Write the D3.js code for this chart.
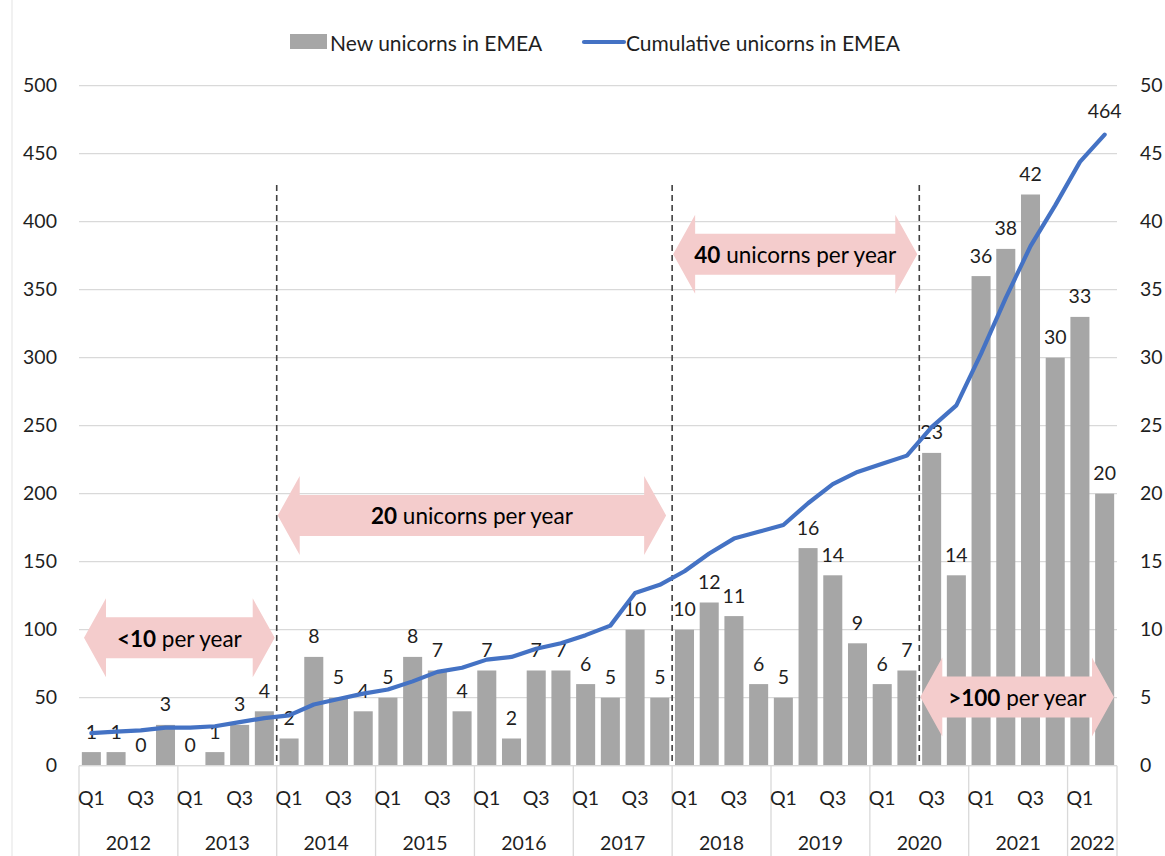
<!DOCTYPE html>
<html>
<head>
<meta charset="utf-8">
<script src="https://cdn.jsdelivr.net/npm/d3@7"></script>
<style>
  body { margin: 0; background: #fff; }
  text { font-family: Lato, "Open Sans", sans-serif; fill: #1f1f1f; }
</style>
</head>
<body>
<svg id="chart" width="1165" height="856"></svg>
<script>
// Quarterly categories: 2012 Q1 .. 2022 Q2
const years = ["2012","2013","2014","2015","2016","2017","2018","2019","2020","2021","2022"];
const quarterNames = ["Q1","Q2","Q3","Q4"];
const quarterCount = 42;

// New unicorns per quarter (right axis)
const newUnicorns = [1,1,0,3, 0,1,3,4, 2,8,5,4, 5,8,7,4, 7,2,7,7, 6,5,10,5,
                     10,12,11,6, 5,16,14,9, 6,7,23,14, 36,38,42,30, 33,20];
// Cumulative unicorns (left axis)
const cumulative = [24,25,26,28, 28,29,32,35, 37,45,49,53, 56,62,69,72, 78,80,86,90,
                    96,103,127,133, 143,156,167,172, 177,193,207,216, 222,228,249,265,
                    303,344,382,412, 444,464];

const leftTicks = [0,50,100,150,200,250,300,350,400,450,500];
const rightTicks = [0,5,10,15,20,25,30,35,40,45,50];

// Period separators (index of first quarter of the new period)
const periodBreaks = [8, 24, 34];
// Pace annotations: from/to quarter boundary, level on left axis
const paceNotes = [
  {from: 0, to: 8, level: 94, bold: "<10", rest: " per year"},
  {from: 8, to: 24, level: 184, bold: "20", rest: " unicorns per year"},
  {from: 24, to: 34, level: 376, bold: "40", rest: " unicorns per year"},
  {from: 34, to: 42, level: 50.5, bold: ">100", rest: " per year"}
];

const categories = d3.range(quarterCount).map(i => ({
  i, year: years[Math.floor(i / 4)], q: quarterNames[i % 4]
}));

const svg = d3.select("#chart");
const plotLeft = 79, plotRight = 1117, plotTop = 85.7, plotBottom = 765.7;

const x = d3.scaleBand().domain(d3.range(quarterCount)).range([plotLeft, plotRight])
  .paddingInner(0.23).paddingOuter(0.115);
const step = x.step();
const edge = i => plotLeft + i * step;
const yL = d3.scaleLinear().domain([0, 500]).range([plotBottom, plotTop]);
const yR = d3.scaleLinear().domain([0, 50]).range([plotBottom, plotTop]);

// outer frame line at the left
svg.append("line").attr("x1", 12).attr("x2", 12).attr("y1", 0).attr("y2", 856)
  .attr("stroke", "#e3e3e3").attr("stroke-width", 1);

// gridlines
svg.append("g").selectAll("line").data(leftTicks).join("line")
  .attr("x1", plotLeft).attr("x2", plotRight)
  .attr("y1", d => yL(d)).attr("y2", d => yL(d))
  .attr("stroke", "#d9d9d9").attr("stroke-width", 1.3);

// axes labels
const axL = svg.append("g").attr("transform", `translate(${plotLeft},0)`)
  .call(d3.axisLeft(yL).tickValues(leftTicks).tickSize(0).tickPadding(22));
axL.select(".domain").remove();
axL.selectAll("text").attr("font-size", 19.5).style("font-family", "Lato").attr("fill", "#1f1f1f");

const axR = svg.append("g").attr("transform", `translate(${plotRight},0)`)
  .call(d3.axisRight(yR).tickValues(rightTicks).tickSize(0).tickPadding(23));
axR.select(".domain").remove();
axR.selectAll("text").attr("font-size", 19.5).style("font-family", "Lato").attr("fill", "#1f1f1f");

// bars
svg.append("g").selectAll("rect").data(categories).join("rect")
  .attr("x", d => x(d.i)).attr("width", x.bandwidth())
  .attr("y", d => yR(newUnicorns[d.i]))
  .attr("height", d => plotBottom - yR(newUnicorns[d.i]))
  .attr("fill", "#a6a6a6");

// pace arrows (drawn over the bars)
const arrowHalf = 39.5, shaftHalf = 20.5, headLen = 22;
const arrowG = svg.append("g");
paceNotes.forEach(n => {
  const x0 = edge(n.from) + (n.from === 0 ? 5 : 1);
  const x1 = edge(n.to) - (n.to === 42 ? 3 : (n.to === 24 ? 6 : 2));
  const cy = yL(n.level);
  const pts = [
    [x0, cy], [x0 + headLen, cy - arrowHalf], [x0 + headLen, cy - shaftHalf],
    [x1 - headLen, cy - shaftHalf], [x1 - headLen, cy - arrowHalf], [x1, cy],
    [x1 - headLen, cy + arrowHalf], [x1 - headLen, cy + shaftHalf],
    [x0 + headLen, cy + shaftHalf], [x0 + headLen, cy + arrowHalf]
  ];
  arrowG.append("path").attr("d", d3.line()(pts) + "Z").attr("fill", "#f4cccc");
  const t = arrowG.append("text").attr("x", (x0 + x1) / 2).attr("y", cy)
    .attr("text-anchor", "middle").attr("dominant-baseline", "central")
    .attr("font-size", 22.5).style("fill", "#000");
  t.append("tspan").attr("font-weight", "bold").text(n.bold);
  t.append("tspan").text(n.rest);
});

// bar value labels
svg.append("g").selectAll("text").data(categories).join("text")
  .attr("x", d => x(d.i) + x.bandwidth() / 2)
  .attr("y", d => yR(newUnicorns[d.i]) - 21)
  .attr("text-anchor", "middle").attr("dominant-baseline", "central")
  .attr("font-size", 19.5)
  .text(d => newUnicorns[d.i]);

// period separators
svg.append("g").selectAll("line").data(periodBreaks).join("line")
  .attr("x1", d => edge(d)).attr("x2", d => edge(d))
  .attr("y1", 185).attr("y2", plotBottom)
  .attr("stroke", "#404040").attr("stroke-width", 1.6).attr("stroke-dasharray", "6,4");

// cumulative line
const line = d3.line().x((d, i) => x(i) + x.bandwidth() / 2).y(d => yL(d));
svg.append("path").datum(cumulative).attr("d", line)
  .attr("fill", "none").attr("stroke", "#4472c4").attr("stroke-width", 4.2)
  .attr("stroke-linejoin", "round").attr("stroke-linecap", "round");

const lastI = cumulative.length - 1;
svg.append("text").attr("x", x(lastI) + x.bandwidth() / 2)
  .attr("y", yL(cumulative[lastI]) - 24)
  .attr("text-anchor", "middle").attr("dominant-baseline", "central")
  .attr("font-size", 19.5).text(cumulative[lastI]);

// category axis: quarter row and year row
const catG = svg.append("g");
catG.append("line").attr("x1", plotLeft).attr("x2", plotRight).attr("y1", plotBottom).attr("y2", plotBottom)
  .attr("stroke", "#d9d9d9").attr("stroke-width", 1.3);
const yearStarts = d3.range(0, quarterCount, 4).concat([quarterCount]);
catG.selectAll("line.sep").data(yearStarts).join("line").attr("class", "sep")
  .attr("x1", d => edge(d)).attr("x2", d => edge(d))
  .attr("y1", plotBottom).attr("y2", 856)
  .attr("stroke", "#d9d9d9").attr("stroke-width", 1.3);
catG.selectAll("text.q").data(categories.filter(d => d.i % 2 === 0)).join("text")
  .attr("class", "q")
  .attr("x", d => x(d.i) + x.bandwidth() / 2).attr("y", 797)
  .attr("text-anchor", "middle").attr("dominant-baseline", "central")
  .attr("font-size", 19.5).text(d => d.q);
catG.selectAll("text.yr").data(years).join("text").attr("class", "yr")
  .attr("x", (d, k) => (edge(k * 4) + edge(Math.min(k * 4 + 4, quarterCount))) / 2)
  .attr("y", 842)
  .attr("text-anchor", "middle").attr("dominant-baseline", "central")
  .attr("font-size", 19.5).text(d => d);

// legend
const lg = svg.append("g");
lg.append("rect").attr("x", 290).attr("y", 34).attr("width", 37).attr("height", 15).attr("fill", "#a6a6a6");
lg.append("text").attr("x", 330).attr("y", 42).attr("dominant-baseline", "central")
  .attr("font-size", 21).text("New unicorns in EMEA");
lg.append("line").attr("x1", 584).attr("x2", 624).attr("y1", 42).attr("y2", 42)
  .attr("stroke", "#4472c4").attr("stroke-width", 4.2).attr("stroke-linecap", "round");
lg.append("text").attr("x", 626).attr("y", 42).attr("dominant-baseline", "central")
  .attr("font-size", 21).text("Cumulative unicorns in EMEA");
</script>
</body>
</html>
